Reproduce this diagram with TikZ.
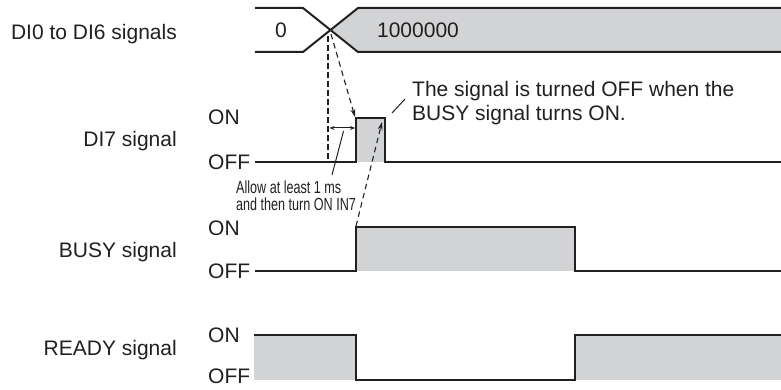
\documentclass[tikz,border=0pt]{standalone}
\usepackage{fontspec}
\setmainfont{Liberation Sans}
\newfontfamily\narrowfont[FakeStretch=0.72]{Liberation Sans}
\usetikzlibrary{arrows.meta,calc}
\definecolor{cline}{HTML}{231F20}
\definecolor{cfill}{HTML}{D1D3D4}

\begin{document}
\begin{tikzpicture}[x=1pt,y=-1pt,>=stealth,
    wave/.style={draw=cline,line width=2pt},
    lbl/.style={font=\fontsize{21}{24}\selectfont,inner sep=0pt,text=cline},
    note/.style={font=\narrowfont\fontsize{17.5}{17}\selectfont,inner sep=0pt,align=left,text=cline},
    lead/.style={draw=cline,line width=1pt},
    dasharrow/.style={draw=cline,line width=1.1pt,dash pattern=on 5.5pt off 4pt,-{Stealth[length=8pt,width=5pt]}}]
    \useasboundingbox (0,0) rectangle (781,390);
    % signal names
    \node[lbl,anchor=base east] (n06) at (177,40) {DI0 to DI6 signals};
    \node[lbl,anchor=base east] (n7) at (177,147) {DI7 signal};
    \node[lbl,anchor=base east] (nbusy) at (177,257) {BUSY signal};
    \node[lbl,anchor=base east] (nready) at (177,355) {READY signal};
    % on / off levels
    \node[lbl,anchor=base west] (on7) at (208,125) {ON};
    \node[lbl,anchor=base west] (off7) at (208,170) {OFF};
    \node[lbl,anchor=base west] (onbusy) at (208,235) {ON};
    \node[lbl,anchor=base west] (offbusy) at (208,278) {OFF};
    \node[lbl,anchor=base west] (onready) at (208,342) {ON};
    \node[lbl,anchor=base west] (offready) at (208,383) {OFF};
    % DI0 to DI6 data bus
    \fill[cfill] (330.5,30) -- (358,8) -- (781,8) -- (781,52) -- (358,52) -- cycle;
    \draw[wave] (255,8) -- (303,8) -- (358,52) -- (781,52);
    \draw[wave] (255,52) -- (303,52) -- (358,8) -- (781,8);
    \node[lbl,anchor=base] (v0) at (281,37.5) {0};
    \node[lbl,anchor=base] (v1) at (418,37.5) {1000000};
    % DI7 pulse
    \fill[cfill] (356,118) rectangle (385,162);
    \draw[wave] (255,162) -- (356,162) -- (356,118) -- (385,118) -- (385,162) -- (781,162);
    % BUSY
    \fill[cfill] (356,227) rectangle (575,271);
    \draw[wave] (255,271) -- (356,271) -- (356,227) -- (575,227) -- (575,271) -- (781,271);
    % READY
    \fill[cfill] (254,335) rectangle (356,380);
    \fill[cfill] (575,335) rectangle (781,380);
    \draw[wave] (254,335) -- (356,335) -- (356,380) -- (575,380) -- (575,335) -- (781,335);
    % timing marks
    \coordinate (cross) at (331,34);
    \coordinate (dtop) at (328,36);
    \coordinate (dbot) at (328,162);
    \coordinate (rise7) at (355,117);
    \coordinate (gapl) at (329.5,128);
    \coordinate (gapr) at (355,128);
    \coordinate (busyup) at (356,226);
    \coordinate (off7tip) at (382,122);
    \draw[cline,line width=2.6pt,dash pattern=on 6pt off 3pt] (dtop) -- (dbot);
    \draw[dasharrow] (cross) -- (rise7);
    \draw[dasharrow] (busyup) -- (off7tip);
    \draw[cline,line width=1pt,{Stealth[length=5pt,width=4pt]}-{Stealth[length=5pt,width=4pt]}] (gapl) -- (gapr);
    % notes
    \node[note,anchor=north west] (allow) at (236,180.5) {Allow at least 1 ms\\and then turn ON IN7};
    \coordinate (allowtop) at (332,175);
    \draw[lead] ($(gapl)!0.55!(gapr)+(0,3)$) -- (allowtop);
    \node[lbl,anchor=north west,align=left] (offnote) at (412,81) {The signal is turned OFF when the\\BUSY signal turns ON.};
    \coordinate (leadin) at (392,113);
    \coordinate (leadout) at (405,99);
    \draw[lead] (leadin) -- (leadout);
\end{tikzpicture}
\end{document}
